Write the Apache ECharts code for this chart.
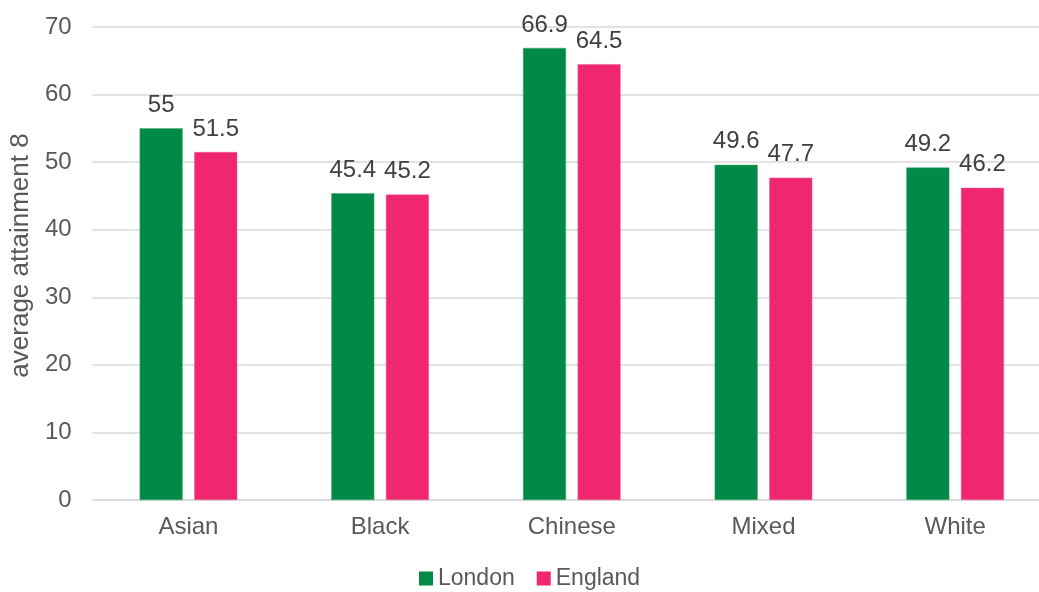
<!DOCTYPE html>
<html><head><meta charset="utf-8">
<script src="https://cdn.jsdelivr.net/npm/echarts@6/dist/echarts.min.js"></script>
<style>html,body{margin:0;padding:0;background:#fff;overflow:hidden;width:1039px;height:592px}#c{width:1051px;height:592px}</style>
</head><body><div id="c"></div>
<script>
const categories = ["Asian", "Black", "Chinese", "Mixed", "White"];
const london = [55, 45.4, 66.9, 49.6, 49.2];
const england = [51.5, 45.2, 64.5, 47.7, 46.2];
const yTicks = [0, 10, 20, 30, 40, 50, 60, 70];

const font = "Liberation Sans, Arial, sans-serif";
const chart = echarts.init(document.getElementById('c'), null, {renderer: 'canvas'});
chart.setOption({
  animation: false,
  textStyle: {fontFamily: font},
  grid: {left: 91, right: 0, top: 27, bottom: 92, containLabel: false},
  legend: {
    data: ["London", "England"], bottom: -3, left: 414,
    itemWidth: 14, itemHeight: 14, itemGap: 22, icon: 'rect',
    itemStyle: {borderWidth: 0},
    textStyle: {fontSize: 23, color: '#595959', fontFamily: font}
  },
  xAxis: {
    type: 'category', data: categories,
    axisLine: {show: true, lineStyle: {color: '#d9d9d9', width: 1.5}},
    axisTick: {show: false},
    axisLabel: {fontSize: 24, color: '#595959', margin: 15, fontFamily: font}
  },
  yAxis: {
    type: 'value', min: yTicks[0], max: yTicks[yTicks.length - 1], interval: 10,
    name: 'average attainment 8', nameLocation: 'middle', nameGap: 56, nameRotate: 90,
    nameTextStyle: {fontSize: 26, color: '#595959', fontFamily: font, padding: [0, 0, 0, 16]},
    axisLine: {show: false}, axisTick: {show: false},
    axisLabel: {fontSize: 24, color: '#595959', margin: 21, fontFamily: font},
    splitLine: {lineStyle: {color: '#d9d9d9', width: 1.5}}
  },
  series: [
    {name: 'London', type: 'bar', data: london, barWidth: 43, barGap: '27%',
     itemStyle: {color: '#008A47', borderColor: '#3fa56f', borderWidth: 0.5},
     label: {show: true, position: 'top', distance: 11, fontSize: 24, color: '#404040', fontFamily: font}},
    {name: 'England', type: 'bar', data: england, barWidth: 43,
     itemStyle: {color: '#EF2670', borderColor: '#f3608f', borderWidth: 0.5},
     label: {show: true, position: 'top', distance: 11, fontSize: 24, color: '#404040', fontFamily: font}}
  ]
});
</script></body></html>
